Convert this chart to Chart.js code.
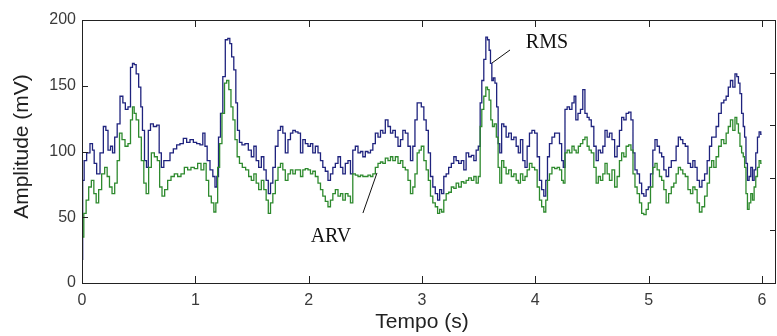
<!DOCTYPE html>
<html>
<head>
<meta charset="utf-8">
<script src="https://cdn.jsdelivr.net/npm/chart.js@4.4.1/dist/chart.umd.min.js"></script>
<style>
  html, body { margin: 0; padding: 0; background: #fff; }
  canvas { display: block; }
</style>
</head>
<body>
<canvas id="emgChart" width="777" height="336"></canvas>
<script>
// tempo (s) e amplitude (mV)
var rmsTime = [0, 0.012, 0.026, 0.056, 0.085, 0.100, 0.115, 0.144, 0.174, 0.203, 0.218, 0.241, 0.262, 0.277, 0.300, 0.321, 0.350, 0.371, 0.394, 0.418, 0.438, 0.453, 0.468, 0.488, 0.512, 0.526, 0.541, 0.562, 0.576, 0.594, 0.615, 0.644, 0.674, 0.688, 0.712, 0.732, 0.762, 0.791, 0.821, 0.850, 0.879, 0.909, 0.938, 0.968, 0.997, 1.026, 1.056, 1.076, 1.094, 1.115, 1.144, 1.165, 1.182, 1.197, 1.212, 1.232, 1.253, 1.276, 1.297, 1.312, 1.329, 1.350, 1.365, 1.379, 1.400, 1.423, 1.453,
  1.482, 1.506, 1.527, 1.547, 1.571, 1.594, 1.615, 1.635, 1.653, 1.674, 1.694, 1.718, 1.741, 1.762, 1.782, 1.806, 1.829, 1.850, 1.871, 1.894, 1.918, 1.938, 1.959, 1.982, 2.006, 2.026, 2.047, 2.071, 2.094, 2.115, 2.135, 2.159, 2.182, 2.203, 2.224, 2.247, 2.271, 2.291, 2.312, 2.335, 2.359, 2.379, 2.400, 2.424, 2.447, 2.468, 2.488, 2.512, 2.535, 2.556, 2.577, 2.600, 2.624, 2.644, 2.665, 2.688, 2.712, 2.732, 2.753, 2.777, 2.800, 2.821, 2.841, 2.865, 2.888, 2.909, 2.929, 2.947, 2.968,
  2.982, 3.006, 3.027, 3.047, 3.065, 3.085, 3.106, 3.129, 3.147, 3.165, 3.182, 3.203, 3.224, 3.247, 3.271, 3.291, 3.312, 3.335, 3.359, 3.379, 3.400, 3.424, 3.447, 3.468, 3.488, 3.506, 3.521, 3.535, 3.556, 3.571, 3.585, 3.600, 3.609, 3.624, 3.635, 3.653, 3.665, 3.679, 3.694, 3.712, 3.732, 3.753, 3.777, 3.800, 3.821, 3.841, 3.859, 3.879, 3.900, 3.918, 3.938, 3.959, 3.982, 4.006, 4.027, 4.047, 4.065, 4.085, 4.100, 4.115, 4.135, 4.159, 4.182, 4.203, 4.224, 4.241, 4.253, 4.271, 4.291, 4.312, 4.335, 4.350, 4.365, 4.388, 4.409, 4.429, 4.447, 4.468,
  4.482, 4.506, 4.527, 4.547, 4.565, 4.585, 4.606, 4.624, 4.644, 4.665, 4.688, 4.712, 4.732, 4.753, 4.771, 4.791, 4.812, 4.835, 4.853, 4.871, 4.888, 4.909, 4.930, 4.947, 4.968, 4.988, 5.006, 5.027, 5.047, 5.065, 5.085, 5.106, 5.124, 5.144, 5.165, 5.188, 5.212, 5.232, 5.253, 5.271, 5.291, 5.312, 5.335, 5.359, 5.380, 5.400, 5.418, 5.438, 5.459, 5.482, 5.506, 5.527, 5.547, 5.565, 5.585, 5.606, 5.629, 5.653, 5.674, 5.694, 5.712, 5.732, 5.753, 5.771, 5.785, 5.800, 5.812, 5.829, 5.841, 5.853, 5.865, 5.879, 5.894, 5.909, 5.924, 5.938, 5.953, 5.968, 5.982, 5.997];
var rmsValues = [18, 78, 93, 99, 106, 101, 91, 83, 99, 119, 116, 101, 104, 99, 111, 121, 142, 137, 132, 134, 164, 167, 166, 159, 149, 134, 116, 93, 88, 116, 121, 119, 120, 99, 88, 93, 93, 99, 102, 105, 106, 110, 107, 109, 107, 106, 105, 114, 104, 93, 86, 81, 73, 81, 111, 129, 157, 185, 186, 182, 172, 162, 137, 116, 107, 105, 106,
  101, 96, 104, 93, 88, 96, 86, 78, 68, 76, 88, 104, 116, 119, 114, 99, 109, 114, 116, 115, 114, 99, 109, 106, 104, 106, 99, 104, 99, 93, 88, 85, 78, 83, 88, 91, 96, 88, 83, 91, 93, 83, 101, 104, 99, 100, 96, 100, 99, 101, 106, 114, 111, 116, 114, 124, 119, 114, 116, 111, 104, 109, 116, 114, 104, 93, 104, 124, 137,
  137, 134, 124, 116, 99, 81, 73, 68, 63, 71, 68, 81, 83, 88, 91, 96, 93, 91, 93, 86, 99, 96, 97, 93, 101, 104, 137, 154, 170, 187, 185, 177, 167, 154, 156, 152, 134, 106, 99, 121, 119, 111, 114, 109, 111, 104, 99, 109, 93, 88, 104, 114, 116, 114, 96, 78, 71, 66, 78, 96, 106, 111, 114, 114, 106, 93, 88, 132, 134, 132, 137, 142, 124, 129, 132, 147, 129, 126,
  124, 119, 104, 93, 101, 99, 104, 116, 111, 114, 109, 96, 104, 116, 126, 124, 129, 130, 124, 99, 86, 83, 76, 68, 66, 71, 73, 83, 101, 109, 104, 99, 96, 86, 81, 88, 93, 93, 104, 111, 109, 106, 104, 91, 88, 93, 88, 78, 73, 78, 83, 93, 104, 111, 111, 119, 129, 137, 139, 142, 149, 154, 149, 159, 157, 152, 144, 129, 119, 111, 91, 78, 81, 88, 78, 86, 99, 111, 115, 113];

var arvTime = [0, 0.006, 0.026, 0.047, 0.071, 0.094, 0.115, 0.135, 0.159, 0.188, 0.212, 0.232, 0.253, 0.277, 0.300, 0.321, 0.341, 0.365, 0.394, 0.418, 0.438, 0.453, 0.468, 0.488, 0.512, 0.535, 0.556, 0.576, 0.600, 0.624, 0.653, 0.676, 0.694, 0.718, 0.741, 0.771, 0.800, 0.829, 0.859, 0.888, 0.918, 0.947, 0.976, 1.006, 1.035, 1.065, 1.085, 1.106, 1.129, 1.153, 1.174, 1.188, 1.206, 1.223, 1.247, 1.268, 1.285, 1.306, 1.323, 1.341, 1.359, 1.379, 1.400, 1.429, 1.459,
  1.482, 1.506, 1.527, 1.547, 1.571, 1.594, 1.615, 1.635, 1.653, 1.674, 1.694, 1.718, 1.741, 1.762, 1.782, 1.806, 1.829, 1.850, 1.871, 1.894, 1.918, 1.938, 1.959, 1.982, 2.006, 2.026, 2.047, 2.071, 2.094, 2.115, 2.135, 2.159, 2.182, 2.203, 2.224, 2.247, 2.271, 2.291, 2.312, 2.335, 2.359, 2.379, 2.400, 2.424, 2.447, 2.468, 2.488, 2.512, 2.535, 2.556, 2.577, 2.600, 2.624, 2.644, 2.665, 2.688, 2.712, 2.732, 2.753, 2.777, 2.800, 2.821, 2.841, 2.865, 2.888, 2.909, 2.929, 2.947, 2.968,
  2.982, 3.006, 3.027, 3.047, 3.065, 3.085, 3.106, 3.129, 3.147, 3.165, 3.182, 3.203, 3.224, 3.247, 3.271, 3.291, 3.312, 3.335, 3.359, 3.379, 3.400, 3.424, 3.447, 3.468, 3.488, 3.506, 3.521, 3.535, 3.556, 3.571, 3.585, 3.600, 3.615, 3.629, 3.647, 3.665, 3.679, 3.694, 3.712, 3.732, 3.753, 3.777, 3.800, 3.821, 3.841, 3.859, 3.879, 3.900, 3.918, 3.938, 3.959, 3.982, 4.006, 4.027, 4.047, 4.065, 4.085, 4.100, 4.115, 4.135, 4.159, 4.182, 4.203, 4.224, 4.241, 4.253, 4.271, 4.291, 4.312, 4.335, 4.350, 4.371, 4.388, 4.409, 4.429, 4.447, 4.468,
  4.482, 4.506, 4.527, 4.547, 4.565, 4.585, 4.606, 4.624, 4.644, 4.665, 4.688, 4.712, 4.732, 4.753, 4.771, 4.791, 4.812, 4.835, 4.853, 4.871, 4.888, 4.909, 4.930, 4.947, 4.968, 4.988, 5.006, 5.027, 5.047, 5.065, 5.085, 5.106, 5.124, 5.144, 5.165, 5.188, 5.212, 5.232, 5.253, 5.271, 5.291, 5.312, 5.335, 5.359, 5.380, 5.400, 5.418, 5.438, 5.459, 5.482, 5.506, 5.527, 5.547, 5.565, 5.585, 5.606, 5.629, 5.653, 5.674, 5.694, 5.712, 5.732, 5.753, 5.771, 5.785, 5.800, 5.812, 5.829, 5.841, 5.853, 5.865, 5.879, 5.894, 5.909, 5.924, 5.938, 5.953, 5.968, 5.982, 5.997];
var arvValues = [5, 35, 53, 63, 73, 78, 68, 61, 71, 83, 88, 81, 73, 68, 76, 93, 114, 109, 104, 106, 124, 134, 129, 124, 111, 93, 76, 68, 88, 99, 96, 93, 73, 66, 71, 78, 81, 83, 81, 83, 88, 86, 88, 87, 91, 86, 91, 78, 66, 61, 54, 61, 88, 106, 129, 152, 154, 147, 134, 124, 109, 96, 91, 88, 86,
  81, 78, 83, 76, 71, 78, 71, 63, 53, 61, 68, 78, 88, 91, 86, 78, 83, 86, 83, 86, 86, 81, 86, 87, 86, 83, 85, 81, 76, 71, 66, 62, 58, 63, 68, 71, 66, 68, 63, 68, 66, 61, 83, 82, 81, 82, 81, 81, 82, 81, 83, 88, 91, 92, 91, 95, 93, 96, 93, 96, 91, 93, 88, 86, 78, 68, 73, 83, 99,
  101, 104, 93, 86, 78, 66, 61, 58, 53, 56, 54, 63, 68, 69, 73, 72, 76, 73, 77, 76, 78, 80, 78, 81, 76, 81, 119, 132, 142, 149, 147, 139, 124, 119, 121, 111, 88, 76, 93, 88, 83, 86, 81, 83, 78, 76, 83, 78, 81, 86, 91, 88, 86, 73, 63, 58, 54, 63, 78, 83, 88, 87, 88, 86, 78, 76, 99, 101, 99, 104, 101, 99, 104, 106, 109, 111, 104,
  101, 99, 88, 76, 81, 78, 83, 91, 83, 78, 86, 73, 81, 93, 99, 96, 104, 105, 101, 83, 73, 68, 61, 53, 52, 56, 61, 73, 88, 91, 86, 81, 78, 71, 61, 68, 73, 76, 83, 88, 86, 83, 81, 71, 68, 73, 71, 61, 54, 58, 66, 76, 88, 93, 88, 96, 104, 109, 106, 114, 119, 124, 116, 126, 121, 114, 104, 99, 96, 88, 68, 56, 61, 68, 63, 73, 81, 88, 93, 91];

var xTicks = [0, 1, 2, 3, 4, 5, 6];
var yTicks = [0, 50, 100, 150, 200];
var rightTicks = [1, 2, 3, 4];

// rótulos do gráfico: [texto, t, amplitude] e setas [t1, a1, t2, a2]
var labels = [['RMS', 4.103, 182.5], ['ARV', 2.197, 35]];
var arrows = [[3.777, 177.2, 3.618, 167.3], [2.479, 53.2, 2.603, 83.7]];

function toPoints(ts, vs) {
  return ts.map(function (t, i) { return { x: t, y: vs[i] }; });
}

var frame = {
  id: 'frame',
  afterDraw: function (chart) {
    var c = chart.ctx, a = chart.chartArea;
    var sx = chart.scales.x, sy = chart.scales.y, s2 = chart.scales.y2;
    c.save();
    c.strokeStyle = '#222';
    c.lineWidth = 1;
    c.strokeRect(a.left + 0.5, a.top + 0.5, a.right - a.left - 1, a.bottom - a.top);
    c.beginPath();
    xTicks.forEach(function (v) {
      var px = Math.round(sx.getPixelForValue(v)) + 0.5;
      c.moveTo(px, a.bottom); c.lineTo(px, a.bottom - 7);
      c.moveTo(px, a.top); c.lineTo(px, a.top + 7);
    });
    yTicks.forEach(function (v) {
      var py = Math.round(sy.getPixelForValue(v)) + 0.5;
      c.moveTo(a.left, py); c.lineTo(a.left + 6, py);
    });
    rightTicks.forEach(function (v) {
      var py = Math.round(s2.getPixelForValue(v)) + 0.5;
      c.moveTo(a.right, py); c.lineTo(a.right - 6, py);
    });
    c.stroke();

    // setas dos rótulos
    c.strokeStyle = '#111';
    c.beginPath();
    arrows.forEach(function (r) {
      c.moveTo(sx.getPixelForValue(r[0]), sy.getPixelForValue(r[1]));
      c.lineTo(sx.getPixelForValue(r[2]), sy.getPixelForValue(r[3]));
    });
    c.stroke();

    c.fillStyle = '#111';
    c.font = '20px "Liberation Serif", "Times New Roman", serif';
    c.textAlign = 'center';
    c.textBaseline = 'middle';
    labels.forEach(function (l) {
      c.fillText(l[0], sx.getPixelForValue(l[1]), sy.getPixelForValue(l[2]));
    });

    // títulos dos eixos
    c.fillStyle = '#222';
    c.font = '21px "Liberation Sans", Arial, sans-serif';
    c.fillText('Tempo (s)', sx.getPixelForValue(3), 322);
    c.translate(22, (a.top + a.bottom) / 2 - 5);
    c.rotate(-Math.PI / 2);
    c.fillText('Amplitude (mV)', 0, 0);
    c.restore();
  }
};

var ctx = document.getElementById('emgChart');

var emgChart = new Chart(ctx, {
  type: 'line',
  data: {
    datasets: [{
      label: 'ARV',
      data: toPoints(arvTime, arvValues),
      borderColor: '#2e8a2e',
      borderWidth: 1.3,
      pointRadius: 0,
      stepped: 'middle'
    }, {
      label: 'RMS',
      data: toPoints(rmsTime, rmsValues),
      borderColor: '#1f237e',
      borderWidth: 1.3,
      pointRadius: 0,
      stepped: 'middle'
    }]
  },
  options: {
    responsive: false,
    animation: false,
    devicePixelRatio: 1,
    layout: { padding: { top: 20, right: 1, left: 0, bottom: 0 } },
    plugins: { legend: { display: false }, tooltip: { enabled: false } },
    scales: {
      x: {
        type: 'linear',
        min: 0,
        max: 6.124,
        afterBuildTicks: function (s) { s.ticks = xTicks.map(function (v) { return { value: v }; }); },
        afterFit: function (s) { s.height = 53; },
        grid: { display: false, drawTicks: false },
        border: { display: false },
        ticks: { padding: 8, color: '#3a3a3a', font: { size: 16, family: '"Liberation Sans", Arial, sans-serif' } }
      },
      y: {
        min: 0,
        max: 200,
        afterBuildTicks: function (s) { s.ticks = yTicks.map(function (v) { return { value: v }; }); },
        afterFit: function (s) { s.width = 82; },
        grid: { display: false, drawTicks: false },
        border: { display: false },
        ticks: { padding: 6, color: '#3a3a3a', font: { size: 16, family: '"Liberation Sans", Arial, sans-serif' } }
      },
      y2: {
        position: 'right',
        min: 0,
        max: 5,
        display: false
      }
    }
  },
  plugins: [frame]
});
</script>
</body>
</html>
